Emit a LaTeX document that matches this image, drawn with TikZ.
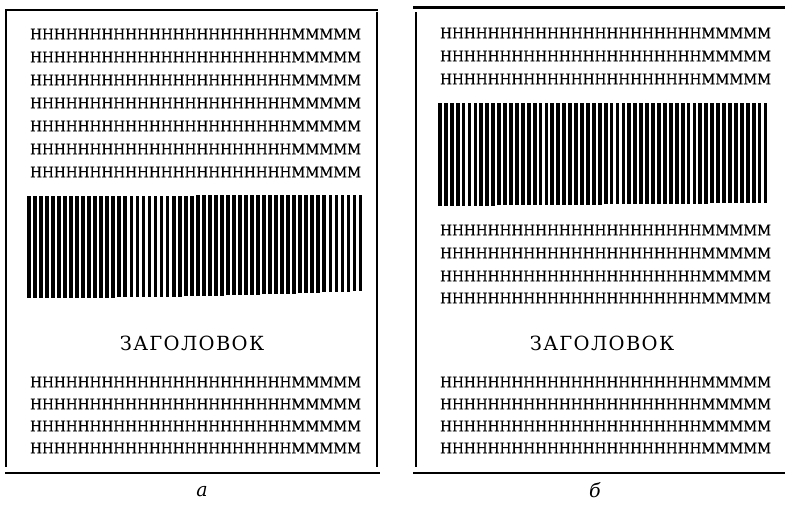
\documentclass[tikz,border=0pt]{standalone}
\usepackage{fontspec}
\setmainfont{DejaVu Serif}
\usetikzlibrary{positioning}
\tikzset{
  rowtext/.style={anchor=west,inner sep=0pt,
    font=\fontsize{14.8}{15}\selectfont\addfontfeature{FakeStretch=0.92,FakeBold=0.6}},
  title/.style={inner sep=0pt,font=\fontsize{19.5}{20}\selectfont\addfontfeature{LetterSpace=7}},
  caption/.style={inner sep=0pt,font=\fontsize{19}{19}\selectfont\itshape},
  rule/.style={line width=2.2pt},
  side/.style={line width=1.2pt},
  bar/.style={fill=black}
}
\newcommand{\hmrow}{ННННННННННННННННННННННМММММ}

\begin{document}
\begin{tikzpicture}[x=1pt,y=-1pt]
\useasboundingbox (0,0) rectangle (785,506);
% panel a
\draw[rule] (5,10)--(378,10); \draw[rule] (5,473)--(380,473);
\draw[side] (6,10)--(6,467); \draw[side] (377,12)--(377,467);
\foreach \y [count=\i] in {34,57,80,103,126,149,172}
  \node[rowtext] (at\i) at (30,\y) {\hmrow};
\foreach \i in {0,...,55}
  \fill[bar] ({27+\i*6.03},{196-\i/55}) rectangle ({30.8+\i*6.03},{298-7*(\i/55)^2});
\node[title] (ttla) at (192,343) {ЗАГОЛОВОК};
\foreach \y [count=\i] in {382,404,426,448}
  \node[rowtext] (ab\i) at (30,\y) {\hmrow};
\node[caption] (capa) at (202,492) {а};
% panel b
\draw[rule] (413,7.5)--(785,7.5); \draw[rule] (413,473)--(785,473);
\draw[side] (416,12)--(416,467);
\foreach \y [count=\i] in {33,56,79}
  \node[rowtext] (bt\i) at (440,\y) {\hmrow};
\foreach \i in {0,...,55}
  \fill[bar] ({438+\i*5.92},{103}) rectangle ({441.8+\i*5.92},{206-3*(\i/55)});
\foreach \y [count=\i] in {230,253,276,298}
  \node[rowtext] (bm\i) at (440,\y) {\hmrow};
\node[title] (ttlb) at (602,343) {ЗАГОЛОВОК};
\foreach \y [count=\i] in {382,404,426,448}
  \node[rowtext] (bb\i) at (440,\y) {\hmrow};
\node[caption] (capb) at (595,490) {б};
\end{tikzpicture}
\end{document}
